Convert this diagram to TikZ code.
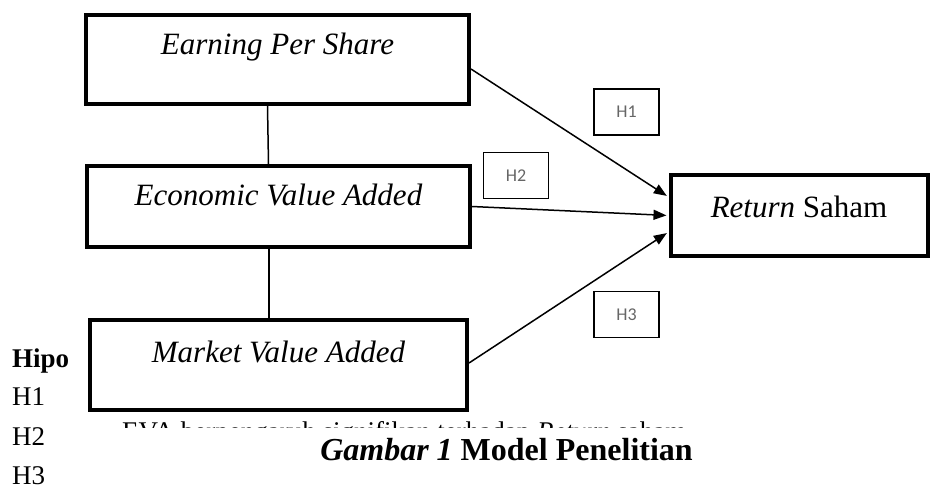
\documentclass[tikz,border=0pt]{standalone}
\usepackage{fontspec}
\setmainfont{Liberation Serif}
\newfontfamily\hfont{Carlito}
\usetikzlibrary{arrows.meta}
\begin{document}
\begin{tikzpicture}[x=1pt,y=-1pt,
  varbox/.style={draw,line width=4pt,inner sep=0pt,font=\fontsize{31}{36}\selectfont},
  hbox/.style={draw,line width=1.5pt,inner sep=0pt,minimum width=65pt,minimum height=46pt,
    text=black!60,font=\hfont\fontsize{18}{20}\selectfont},
  conn/.style={line width=1.5pt},
  arr/.style={line width=1.5pt,-{Triangle[length=13pt,width=10pt]},shorten >=2pt},
  listtxt/.style={inner sep=0pt,anchor=base west,font=\fontsize{27}{32}\selectfont}]
\useasboundingbox (0,0) rectangle (930,495);
% variable boxes
\node[varbox,minimum width=383pt,text height=40pt,text depth=49pt] (eps) at (277.5,59.5) {\textit{Earning Per Share}};
\node[varbox,minimum width=383pt,text height=39pt,text depth=42pt] (eva) at (278.5,206.5) {\textit{Economic Value Added}};
\node[varbox,minimum width=377pt,text height=42pt,text depth=48pt] (mva) at (278.5,365) {\textit{Market Value Added}};
\node[varbox,minimum width=257pt,text height=42pt,text depth=39pt] (ret) at (799,215.5) {\textit{Return} Saham};
% hypothesis labels
\node[hbox] (h1) at (626.5,112) {H1};
\node[hbox] (h2) at (516,175.5) {H2};
\node[hbox] (h3) at (626.5,314.5) {H3};
% connectors
\draw[conn] ([xshift=-10pt]eps.south) -- ([xshift=-10pt]eva.north);
\draw[conn] ([xshift=-9.5pt]eva.south) -- ([xshift=-9.5pt]mva.north);
\draw[arr] ([yshift=-9.5pt]eps.east) -- ([yshift=18.5pt]ret.west);
\draw[arr] (eva.east) -- (ret.west);
\draw[arr] ([yshift=2pt]mva.east) -- ([yshift=-16.5pt]ret.west);
% text below
\node[listtxt,font=\bfseries\fontsize{27}{32}\selectfont] (hipo) at (12,367) {Hipo};
\node[listtxt] (l1) at (12,405) {H1};
\node[listtxt] (l2) at (12,445) {H2};
\node[listtxt] (l3) at (12,484) {H3};
\node[listtxt] (hid) at (122,440) {EVA berpengaruh signifikan terhadap \textit{Return} saham};
\node[fill=white,inner sep=0pt,anchor=base,minimum width=783pt,text height=32pt,text depth=10pt,
  font=\bfseries\fontsize{32}{36}\selectfont] (cap) at (506.5,460) {\textit{Gambar 1} Model Penelitian};
\end{tikzpicture}
\end{document}
